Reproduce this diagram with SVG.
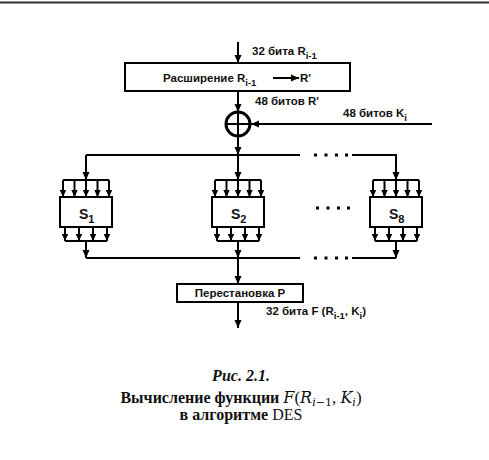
<svg xmlns="http://www.w3.org/2000/svg" width="489" height="460" viewBox="0 0 489 460">
<defs>
<marker id="ah" markerUnits="userSpaceOnUse" markerWidth="8" markerHeight="8" refX="8" refY="4" orient="auto"><path d="M0,0.5 L8,4 L0,7.5 z" fill="#000"/></marker>
<marker id="as" markerUnits="userSpaceOnUse" markerWidth="7" markerHeight="7" refX="7" refY="3.5" orient="auto"><path d="M0,0.3 L7,3.5 L0,6.7 z" fill="#000"/></marker>
<style>
.ln{fill:none;stroke:#000;stroke-width:2}
.a{marker-end:url(#ah)}
.s{marker-end:url(#as)}
.box{fill:#fff;stroke:#000;stroke-width:2}
.t{font-family:"Liberation Sans",Arial,sans-serif;font-size:11.5px;font-weight:bold;fill:#111}
.sub{font-size:9.5px}
.sl{font-size:14px}
.ss{font-size:11px}
.dot{fill:#000}
.cap{font-family:"Liberation Serif","Times New Roman",serif;fill:#111;font-size:16px}
.m{font-family:"DejaVu Serif","Liberation Serif",serif;font-style:italic;font-size:16px}
.ms{font-family:"DejaVu Serif","Liberation Serif",serif;font-size:11px}
</style>
</defs>
<line x1="0" y1="2.5" x2="489" y2="2.5" stroke="#333" stroke-width="2"/>
<g id="connectors">
<path class="ln a" d="M238,42 V63"/>
<path class="ln a" d="M238,91 V112"/>
<path class="ln a" d="M238,136 V155"/>
<path class="ln a" d="M432,124 H251"/>
<path class="ln a" d="M238,155 V180"/>
<path class="ln" d="M300,155 H86"/>
<path class="ln a" d="M86,155 V180"/>
<path class="ln a" d="M352,155 H396 V180"/>
<path class="ln a" d="M86,241 V258"/>
<path class="ln" d="M86,258 H300"/>
<path class="ln a" d="M238,241 V258"/>
<path class="ln a" d="M238,258 V284"/>
<path class="ln a" d="M396,241 V258"/>
<path class="ln" d="M352,258 H396"/>
<path class="ln a" d="M238,302 V328"/>
<g class="dot">
<rect x="314" y="153.5" width="3" height="3"/><rect x="324.5" y="153.5" width="3" height="3"/><rect x="335" y="153.5" width="3" height="3"/><rect x="345" y="153.5" width="3" height="3"/>
<rect x="316" y="206.5" width="3" height="3"/><rect x="326.5" y="206.5" width="3" height="3"/><rect x="337" y="206.5" width="3" height="3"/><rect x="347" y="206.5" width="3" height="3"/>
<rect x="314" y="256.5" width="3" height="3"/><rect x="324.5" y="256.5" width="3" height="3"/><rect x="335" y="256.5" width="3" height="3"/><rect x="345" y="256.5" width="3" height="3"/>
</g>
</g>
<g id="expansion">
<rect class="box" x="125" y="63" width="225" height="28"/>
<text class="t" x="163" y="82">Расширение R<tspan class="sub" dy="4">i-1</tspan></text>
<path class="ln a" d="M273,78 H299"/>
<text class="t" x="300" y="82">R'</text>
</g>
<g id="labels">
<text class="t" x="252" y="55">32 бита R<tspan class="sub" dy="4">i-1</tspan></text>
<text class="t" x="255" y="105">48 битов R'</text>
<text class="t" x="343" y="117">48 битов K<tspan class="sub" dy="4">i</tspan></text>
<text class="t" x="266" y="315">32 бита F (R<tspan class="sub" dy="4">i-1</tspan><tspan dy="-4">, K</tspan><tspan class="sub" dy="4">i</tspan><tspan dy="-4">)</tspan></text>
</g>
<g id="xor">
<circle cx="238" cy="124" r="12" fill="none" stroke="#000" stroke-width="3"/>
<path class="ln" d="M238,112 V136 M226,124 H250"/>
</g>
<g id="s1">
<path class="ln" d="M63,180 H109"/>
<path class="ln s" d="M63,180 V197"/><path class="ln s" d="M74.5,180 V197"/><path class="ln s" d="M86,180 V197"/><path class="ln s" d="M97.5,180 V197"/><path class="ln s" d="M109,180 V197"/>
<rect class="box" x="60" y="197" width="52" height="30"/>
<text class="t sl" x="79" y="219">S<tspan class="ss" dy="4">1</tspan></text>
<path class="ln s" d="M65,227 V241"/><path class="ln s" d="M79,227 V241"/><path class="ln s" d="M93,227 V241"/><path class="ln s" d="M107,227 V241"/>
<path class="ln" d="M65,241 H107"/>
</g>
<g id="s2">
<path class="ln" d="M215,180 H261"/>
<path class="ln s" d="M215,180 V197"/><path class="ln s" d="M226.5,180 V197"/><path class="ln s" d="M238,180 V197"/><path class="ln s" d="M249.5,180 V197"/><path class="ln s" d="M261,180 V197"/>
<rect class="box" x="212" y="197" width="52" height="30"/>
<text class="t sl" x="231" y="219">S<tspan class="ss" dy="4">2</tspan></text>
<path class="ln s" d="M217,227 V241"/><path class="ln s" d="M231,227 V241"/><path class="ln s" d="M245,227 V241"/><path class="ln s" d="M259,227 V241"/>
<path class="ln" d="M217,241 H259"/>
</g>
<g id="s8">
<path class="ln" d="M373,180 H419"/>
<path class="ln s" d="M373,180 V197"/><path class="ln s" d="M384.5,180 V197"/><path class="ln s" d="M396,180 V197"/><path class="ln s" d="M407.5,180 V197"/><path class="ln s" d="M419,180 V197"/>
<rect class="box" x="370" y="197" width="52" height="30"/>
<text class="t sl" x="389" y="219">S<tspan class="ss" dy="4">8</tspan></text>
<path class="ln s" d="M375,227 V241"/><path class="ln s" d="M389,227 V241"/><path class="ln s" d="M403,227 V241"/><path class="ln s" d="M417,227 V241"/>
<path class="ln" d="M375,241 H417"/>
</g>
<g id="permutation">
<rect class="box" x="177" y="284" width="126" height="18"/>
<text class="t" x="240" y="297" text-anchor="middle">Перестановка P</text>
</g>
<g id="caption">
<text class="cap" x="241" y="381" text-anchor="middle" font-weight="bold" font-style="italic" font-size="18">Рис. 2.1.</text>
<text class="cap" x="241" y="403" text-anchor="middle"><tspan font-weight="bold">Вычисление функции  </tspan><tspan class="m">F</tspan><tspan font-size="17">(</tspan><tspan class="m">R</tspan><tspan class="ms" dy="3"><tspan font-style="italic">i</tspan>−1</tspan><tspan dy="-3" font-size="17">, </tspan><tspan class="m">K</tspan><tspan class="ms" font-style="italic" dy="3">i</tspan><tspan dy="-3" font-size="17">)</tspan></text>
<text class="cap" x="241" y="420" text-anchor="middle"><tspan font-weight="bold">в алгоритме </tspan>DES</text>
</g>
</svg>
